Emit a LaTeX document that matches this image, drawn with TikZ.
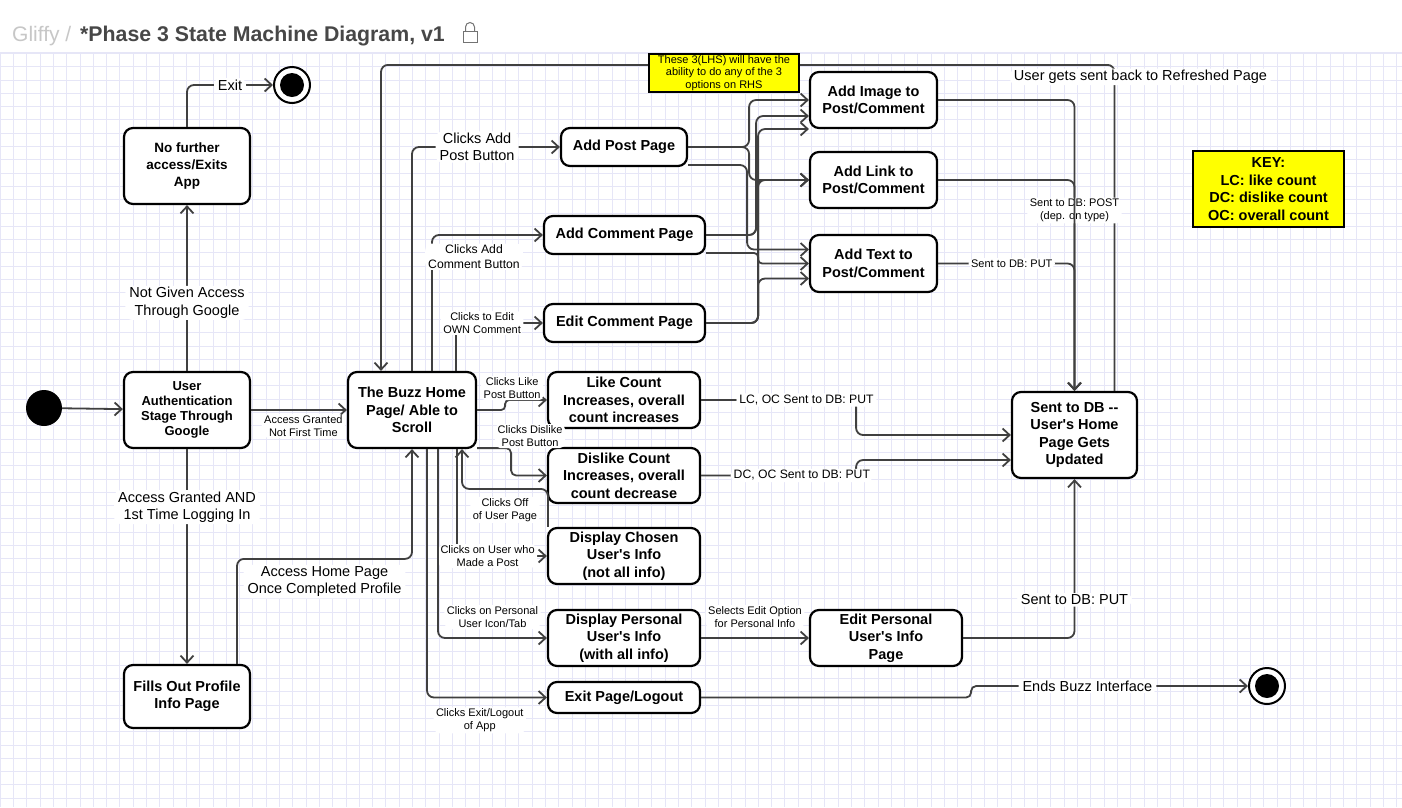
\documentclass[tikz,border=0pt]{standalone}
\usepackage{fontspec}
\setmainfont{Liberation Sans}
\usepackage{xcolor}
\usepackage{tikz}
\usetikzlibrary{arrows.meta}

\definecolor{gridcol}{HTML}{E6E6F7}
\definecolor{notecol}{HTML}{FFFF00}
\newcommand{\ap}{\textquotesingle}

\tikzset{
  sz/.style 2 args={minimum width=#1pt, minimum height=#2pt},
  state/.style={draw, line width=2.2pt, rounded corners=9pt, fill=white, align=center, inner sep=1pt, font=\bfseries\fontsize{14.5}{17.5}\selectfont},
  startstate/.style={circle, fill=black, minimum size=36pt, inner sep=0pt},
  endstate/.style={circle, draw, line width=2pt, fill=white, minimum size=36pt, inner sep=0pt,
    path picture={\fill[black] (path picture bounding box.center) circle (12pt);}},
  keybox/.style={draw, line width=2pt, fill=notecol, align=center, inner sep=1pt},
  trans/.style={draw=black!75, line width=1.8pt, rounded corners=7pt, -{Straight Barb[length=7pt,width=13pt,line width=1.8pt]}},
  lbig/.style={fill=white, inner ysep=1.5pt, inner xsep=4pt, align=center, font=\fontsize{14.5}{17.5}\selectfont},
  lmid/.style={fill=white, inner ysep=1.5pt, inner xsep=3pt, align=center, font=\fontsize{12.2}{14.5}\selectfont},
  lsmall/.style={fill=white, inner ysep=1.5pt, inner xsep=2.5pt, align=center, font=\fontsize{11}{12.8}\selectfont},
}

\begin{document}
\begin{tikzpicture}[x=1pt, y=-1pt]
    \useasboundingbox (0,0) rectangle (1402,807);
    \fill[white] (0,0) rectangle (1402,807);
    \draw[gridcol, line width=0.6pt] (0,807) grid[step=13.3pt] (1402,52);
    \draw[gridcol, line width=0.8pt] (0,52) -- (1402,52);

    \node[anchor=base west, text=black!22, font=\fontsize{21}{25}\selectfont, inner sep=0pt] (gl) at (12,41) {Gliffy /};
    \node[anchor=base west, text=black!72, font=\bfseries\fontsize{21.3}{25}\selectfont, inner sep=0pt] (title) at (80,41) {*Phase 3 State Machine Diagram, v1};
    \draw[black!55, line width=1pt] (463,31) rectangle (477,42);
    \draw[black!55, line width=1pt] (465.5,31) -- (465.5,27) arc (180:360:4.5) -- (474.5,31);

    \node[startstate] (A) at (44,408) {};
    \node[state, sz={126}{76}, font=\bfseries\fontsize{13}{15}\selectfont] (B) at (187,410) {User\\Authentication\\Stage Through\\Google};
    \node[state, sz={126}{76}, font=\bfseries\fontsize{13.5}{17}\selectfont] (C) at (187,166) {No further\\access/Exits\\App};
    \node[endstate] (D) at (292,85) {};
    \node[state, sz={126}{63}] (E) at (187,696.5) {Fills Out Profile\\Info Page};
    \node[state, sz={128}{76}] (F) at (412,410) {The Buzz Home\\Page/ Able to\\Scroll};
    \node[state, sz={126}{38}] (G) at (624,147) {Add Post Page};
    \node[state, sz={161}{38}] (H) at (624.5,235) {Add Comment Page};
    \node[state, sz={161}{38}] (I) at (624.5,323) {Edit Comment Page};
    \node[state, sz={152}{56}] (J) at (624,400) {Like Count\\Increases, overall\\count increases};
    \node[state, sz={152}{55}] (K) at (624,475.5) {Dislike Count\\Increases, overall\\count decrease};
    \node[state, sz={152}{56}] (L) at (624,556) {Display Chosen\\User\ap s Info\\(not all info)};
    \node[state, sz={152}{56}] (M) at (624,638) {Display Personal\\User\ap s Info\\(with all info)};
    \node[state, sz={152}{31}] (N) at (624,697.5) {Exit Page/Logout};
    \node[state, sz={152}{56}] (O) at (886,638) {Edit Personal\\User\ap s Info\\Page};
    \node[state, sz={127}{56}] (P) at (873.5,100) {Add Image to\\Post/Comment};
    \node[state, sz={127}{56}] (Q) at (873.5,180) {Add Link to\\Post/Comment};
    \node[state, sz={127}{57}] (R) at (873.5,263.5) {Add Text to\\Post/Comment};
    \node[state, sz={125}{86}] (S) at (1074.5,435) {Sent to DB -{}-\\User\ap s Home\\Page Gets\\Updated};
    \node[endstate] (T) at (1267,686) {};

    \draw[trans] (A) -- (B);
    \draw[trans] (B) -- node[lbig, pos=0.41]{Not Given Access\\Through Google} (C);
    \draw[trans] (C) |- node[lbig, pos=0.75]{Exit} (D);
    \draw[trans] (B) -- node[lsmall, at end, anchor=north east, yshift=-3pt, xshift=-1pt]{Access Granted\\Not First Time} (F);
    \draw[trans] (B) -- node[lbig, pos=0.27]{Access Granted AND\\1st Time Logging In} (E);
    \draw[trans] ([xshift=50pt]E.north) -- ++(0,-105) -| node[lbig, pos=0.25, below=5pt]{Access Home Page\\Once Completed Profile} (F.south);
    \draw[trans] ([xshift=40pt]S.north) -- node[lbig, pos=0.963, xshift=26pt]{User gets sent back to Refreshed Page} ++(0,-326) -| ([xshift=-31pt]F.north);

    \draw[trans] (F.north) |- node[lbig, pos=0.72]{Clicks Add\\Post Button} (G);
    \draw[trans] ([xshift=20pt]F.north) |- node[lmid, pos=0.42, xshift=42pt]{Clicks Add\\Comment Button} (H);
    \draw[trans] ([xshift=44pt]F.north) |- node[lsmall, pos=0.65]{Clicks to Edit\\OWN Comment} (I);
    \draw[trans, rounded corners=4pt] (F.east) -- node[lsmall, at end, above=9pt, xshift=7pt]{Clicks Like\\Post Button} ++(28,0) |- (J);
    \draw[trans, rounded corners=5pt] ([yshift=1pt]F.south east) -- node[lsmall, at end, xshift=19pt, yshift=12pt]{Clicks Dislike\\Post Button} ++(34,0) |- (K);
    \draw[trans] ([xshift=1pt]L.north west) -- ++(0,-38) -| node[lsmall, pos=0.25, below=7pt]{Clicks Off\\of User Page} ([xshift=50pt]F.south);
    \draw[trans] ([xshift=45pt]F.south) |- node[lsmall, pos=0.67]{Clicks on User who\\Made a Post} (L);
    \draw[trans] ([xshift=26pt]F.south) |- node[lsmall, pos=0.75, above=8pt]{Clicks on Personal\\User Icon/Tab} (M);
    \draw[trans] ([xshift=15pt]F.south) |- node[lsmall, pos=0.72, below=9pt]{Clicks Exit/Logout\\of App} (N);

    \draw[trans] (G.east) -- ++(61,0) |- (P.west);
    \draw[trans] (G.east) -- ++(61,0) |- (Q.west);
    \draw[trans] ([yshift=-18pt]G.east) -- ++(59,0) |- ([yshift=14pt]R.west);
    \draw[trans] (H.east) -- ++(50,0) |- ([yshift=-16pt]P.west);
    \draw[trans] (H.east) -- ++(50,0) |- (Q.west);
    \draw[trans, rounded corners=4pt] ([yshift=-18pt]H.east) -- ++(52,0) |- (R.west);
    \draw[trans] (I.east) -- ++(52,0) |- ([yshift=-29pt]P.west);
    \draw[trans] (I.east) -- ++(52,0) |- (Q.west);
    \draw[trans] (I.east) -- ++(52,0) |- ([yshift=-15pt]R.west);

    \draw[trans] (M) -- node[lsmall, above=8pt]{Selects Edit Option\\for Personal Info} (O);
    \draw[trans] (O) -| node[lbig, pos=0.62]{Sent to DB: PUT} (S);
    \draw[trans, rounded corners=5pt] (N.east) -- ++(270,0) |- node[lbig, pos=0.71]{Ends Buzz Interface} (T);
    \draw[trans] (J.east) -- node[lmid, pos=0.68]{LC, OC Sent to DB: PUT} ++(155,0) |- (S);
    \draw[trans] (K.east) -- node[lmid, pos=0.65]{DC, OC Sent to DB: PUT} ++(155,0) |- ([yshift=-25pt]S.west);
    \draw[trans] (P) -| node[lsmall, pos=0.69]{Sent to DB: POST\\(dep. on type)} (S);
    \draw[trans] (Q) -| (S);
    \draw[trans] (R) -| node[lsmall, pos=0.27]{Sent to DB: PUT} (S);

    \node[keybox, sz={150}{38}, font=\fontsize{11}{12.5}\selectfont] (U) at (724,73) {These 3(LHS) will have the\\ability to do any of the 3\\options on RHS};
    \node[keybox, sz={151}{76}, font=\bfseries\fontsize{14.5}{17.5}\selectfont] (V) at (1268.5,189) {KEY:\\LC: like count\\DC: dislike count\\OC: overall count};
\end{tikzpicture}
\end{document}
